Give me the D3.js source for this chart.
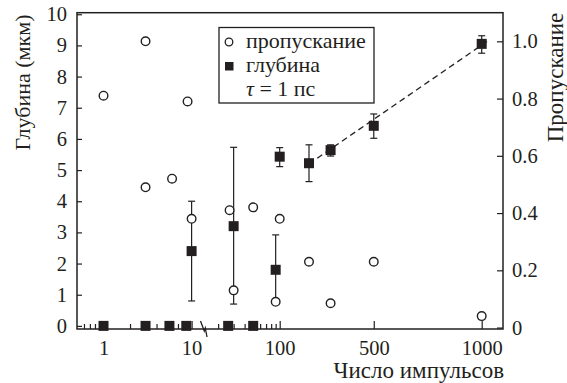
<!DOCTYPE html>
<html>
<head>
  <meta charset="utf-8">
  <style>
    body { margin: 0; background: #fff; }
    #chart text { font-family: 'Liberation Serif', 'Times New Roman', serif !important; }
    .axis path, .axis line { stroke: #231f20; stroke-width: 1.2; }
  </style>
</head>
<body>
  <svg id="chart" width="567" height="383"></svg>
  <script src="https://cdn.jsdelivr.net/npm/d3@7"></script>
  <script>
    // depth (squares, left axis, мкм)
    var depthX = [1, 3, 5.6, 8.7, 10, 26, 30, 50, 90, 100, 200, 300, 500, 1000];
    var depthY = [0, 0, 0, 0, 2.4, 0, 3.2, 0, 1.8, 5.43, 5.22, 5.64, 6.42, 9.05];
    var depthLo = [null, null, null, null, 0.8, null, 0.7, null, 0.75, 5.11, 4.63, 5.45, 6.02, 8.75];
    var depthHi = [null, null, null, null, 4.0, null, 5.73, null, 2.92, 5.72, 5.81, 5.81, 6.8, 9.31];

    // transmission (circles, right axis)
    var transX = [1, 3, 3, 6, 9, 10, 27, 30, 50, 90, 100, 200, 300, 500, 1000];
    var transY = [0.81, 1.0, 0.49, 0.52, 0.79, 0.38, 0.41, 0.13, 0.42, 0.09, 0.38, 0.23, 0.085, 0.23, 0.04];

    // dashed fit through the high-count depths
    var fitX = [200, 1040];
    var fitY = [5.2, 9.2];

    var leftTicks = [0, 1, 2, 3, 4, 5, 6, 7, 8, 9, 10];
    var rightTicks = [0, 0.2, 0.4, 0.6, 0.8, 1.0];
    var logMajor = [1, 10, 100];
    var logMinor = [0.6, 0.7, 0.8, 0.9, 2, 3, 4, 5, 6, 7, 8, 9, 20, 30, 40, 50, 60, 70, 80, 90];
    var linMajor = [500, 1000];

    var mLeft = 77, mRight = 503, mTop = 12.7, mBottom = 329;
    var serif = "'Liberation Serif', 'Times New Roman', serif";
    var ink = '#231f20';

    var xLog = d3.scaleLog().domain([0.5, 100]).range([mLeft, 279.7]);
    var xLin = d3.scaleLinear().domain([100, 200, 1000]).range([279.7, 309, 481.7]);
    function x(v) { return v <= 100 ? xLog(v) : xLin(v); }

    var yL = d3.scaleLinear().domain([-0.1, 10.05]).range([mBottom, mTop]);
    var yR = d3.scaleLinear().domain([-0.005, 1.1]).range([mBottom, mTop]);

    var svg = d3.select('#chart');

    function noDomain(g) {
      g.select('.domain').remove();
      g.attr('font-family', serif).attr('font-size', 20.5);
    }

    // bottom axis pieces
    svg.append('g').attr('class', 'axis')
      .attr('transform', 'translate(0,' + mBottom + ')')
      .call(d3.axisBottom(xLog).tickValues(logMinor).tickFormat('').tickSizeInner(-5).tickSizeOuter(0))
      .call(noDomain);
    svg.append('g').attr('class', 'axis')
      .attr('transform', 'translate(0,' + mBottom + ')')
      .call(d3.axisBottom(xLog).tickValues(logMajor).tickFormat(d3.format('d')).tickSizeInner(-8).tickSizeOuter(0).tickPadding(11))
      .call(noDomain);
    svg.append('g').attr('class', 'axis')
      .attr('transform', 'translate(0,' + mBottom + ')')
      .call(d3.axisBottom(xLin).tickValues(linMajor).tickFormat(d3.format('d')).tickSizeInner(-8).tickSizeOuter(0).tickPadding(11))
      .call(noDomain);

    svg.append('g').attr('class', 'axis')
      .attr('transform', 'translate(' + mLeft + ',0)')
      .call(d3.axisLeft(yL).tickValues(leftTicks).tickSizeInner(-5).tickSizeOuter(0).tickPadding(10))
      .call(noDomain);

    svg.append('g').attr('class', 'axis')
      .attr('transform', 'translate(' + mRight + ',0)')
      .call(d3.axisRight(yR).tickValues(rightTicks)
        .tickFormat(function (d) { return d === 0 ? '0' : d3.format('.1f')(d); })
        .tickSizeInner(-6).tickSizeOuter(0).tickPadding(9))
      .call(noDomain);

    svg.selectAll('.axis text').style('font-size', '20.5px');

    // frame
    svg.append('rect')
      .attr('x', mLeft).attr('y', mTop)
      .attr('width', mRight - mLeft).attr('height', mBottom - mTop)
      .style('fill', 'none').style('stroke', ink).style('stroke-width', 1.5);

    // axis break
    svg.append('path')
      .attr('d', 'M200.5,321 L204.3,331 L205.3,328 L207,337')
      .style('fill', 'none').style('stroke', ink).style('stroke-width', 1.3);

    // dashed fit
    svg.append('line')
      .attr('x1', x(fitX[0])).attr('y1', yL(fitY[0]))
      .attr('x2', x(fitX[1])).attr('y2', yL(fitY[1]))
      .style('stroke', ink).style('stroke-width', 1.3).style('stroke-dasharray', '6,4');

    // error bars
    var depth = depthX.map(function (d, i) {
      return { x: d, y: depthY[i], lo: depthLo[i], hi: depthHi[i] };
    });
    var bars = svg.append('g').selectAll('g').data(depth.filter(function (d) { return d.lo != null; }))
      .enter().append('g')
      .style('stroke', ink).style('stroke-width', 1.2);
    bars.append('line')
      .attr('x1', function (d) { return x(d.x); }).attr('x2', function (d) { return x(d.x); })
      .attr('y1', function (d) { return yL(d.lo); }).attr('y2', function (d) { return yL(d.hi); });
    bars.append('line')
      .attr('x1', function (d) { return x(d.x) - 3.5; }).attr('x2', function (d) { return x(d.x) + 3.5; })
      .attr('y1', function (d) { return yL(d.lo); }).attr('y2', function (d) { return yL(d.lo); });
    bars.append('line')
      .attr('x1', function (d) { return x(d.x) - 3.5; }).attr('x2', function (d) { return x(d.x) + 3.5; })
      .attr('y1', function (d) { return yL(d.hi); }).attr('y2', function (d) { return yL(d.hi); });

    // squares
    svg.append('g').selectAll('rect').data(depth)
      .enter().append('rect')
      .attr('x', function (d) { return x(d.x) - 5; })
      .attr('y', function (d) { return yL(d.y) - 5; })
      .attr('width', 10).attr('height', 10)
      .style('fill', ink);

    // circles
    svg.append('g').selectAll('circle').data(transX.map(function (d, i) { return { x: d, y: transY[i] }; }))
      .enter().append('circle')
      .attr('cx', function (d) { return x(d.x); })
      .attr('cy', function (d) { return yR(d.y); })
      .attr('r', 4.3)
      .style('fill', '#fff').style('stroke', ink).style('stroke-width', 1.4);

    // axis titles
    var titles = svg.append('g').attr('font-family', serif);
    titles.append('text')
      .attr('transform', 'translate(30,82.5) rotate(-90)')
      .attr('text-anchor', 'middle')
      .style('font-size', '22px')
      .text('Глубина (мкм)');
    titles.append('text')
      .attr('transform', 'translate(563,77.5) rotate(-90)')
      .attr('text-anchor', 'middle')
      .style('font-size', '23px')
      .text('Пропускание');
    titles.append('text')
      .attr('x', 504).attr('y', 378)
      .attr('text-anchor', 'end')
      .style('font-size', '23px')
      .text('Число импульсов');

    // legend
    var lg = svg.append('g').attr('font-family', serif);
    lg.append('rect')
      .attr('x', 219).attr('y', 27.5).attr('width', 155).attr('height', 75.5)
      .style('fill', '#fff').style('stroke', ink).style('stroke-width', 1.3);
    lg.append('circle').attr('cx', 229).attr('cy', 42).attr('r', 3.8)
      .style('fill', '#fff').style('stroke', ink).style('stroke-width', 1.3);
    lg.append('rect').attr('x', 225).attr('y', 62).attr('width', 8.5).attr('height', 8.5)
      .style('fill', ink);
    lg.append('text').attr('x', 246).attr('y', 48).style('font-size', '22px').text('пропускание');
    lg.append('text').attr('x', 246).attr('y', 72).style('font-size', '22px').text('глубина');
    var tau = lg.append('text').attr('x', 246).attr('y', 96).style('font-size', '22px');
    tau.append('tspan').style('font-style', 'italic').text('τ');
    tau.append('tspan').text(' = 1 пс');

    svg.selectAll('text')
      .style('font-family', serif, 'important')
      .style('fill', ink);
  </script>
</body>
</html>
